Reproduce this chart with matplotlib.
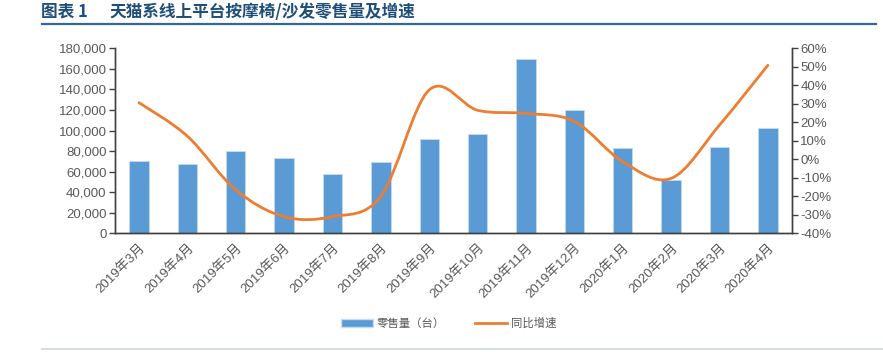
import numpy as np
import matplotlib
matplotlib.use("Agg")
import matplotlib.pyplot as plt
from matplotlib.path import Path
from matplotlib.patches import PathPatch, Patch
from matplotlib.lines import Line2D
from matplotlib.ticker import FuncFormatter, MultipleLocator

plt.rcParams['font.family'] = ['Liberation Sans', 'Noto Sans CJK SC', 'DejaVu Sans']

# 数据
months = ["2019年3月", "2019年4月", "2019年5月", "2019年6月", "2019年7月", "2019年8月",
          "2019年9月", "2019年10月", "2019年11月", "2019年12月", "2020年1月", "2020年2月",
          "2020年3月", "2020年4月"]
sales = [70000, 67500, 80000, 73300, 58000, 69400, 91800, 97000, 169900, 119600,
         83300, 51900, 83600, 102100]
growth = [30.6, 12.5, -16.5, -31.0, -31.0, -20.0, 37.5, 26.5, 24.8, 20.5,
          -1.3, -10.3, 18.5, 50.8]

bar_color = "#5b9bd5"
line_color = "#ed7d31"
txt_color = "#595959"


def smooth_path(xs, ys):
    # Excel 风格平滑线: Catmull-Rom -> 三次贝塞尔
    pts = np.column_stack([xs, ys]).astype(float)
    ext = np.vstack([pts[0], pts, pts[-1]])
    verts = [pts[0]]
    codes = [Path.MOVETO]
    for i in range(1, len(ext) - 2):
        p0, p1, p2, p3 = ext[i - 1], ext[i], ext[i + 1], ext[i + 2]
        verts += [p1 + (p2 - p0) / 6, p2 - (p3 - p1) / 6, p2]
        codes += [Path.CURVE4] * 3
    return Path(verts, codes)


fig = plt.figure(figsize=(8.83, 3.52), dpi=100)
ax = fig.add_axes([0.130, 0.337, 0.767, 0.526])
ax2 = ax.twinx()

x = np.arange(len(months))
ax.bar(x, sales, width=0.4, color=bar_color, edgecolor="#c5dcf0", linewidth=0.6, zorder=2)
ax.set_xlim(-0.5, len(months) - 0.5)
ax.set_ylim(0, 180000)
ax.yaxis.set_major_locator(MultipleLocator(20000))
ax.yaxis.set_major_formatter(FuncFormatter(lambda v, p: "{:,}".format(int(v))))

ax2.set_ylim(-40, 60)
ax2.yaxis.set_major_locator(MultipleLocator(10))
ax2.yaxis.set_major_formatter(FuncFormatter(lambda v, p: "{:.0f}%".format(v)))
ax2.add_patch(PathPatch(smooth_path(x, growth), facecolor="none", edgecolor=line_color,
                        linewidth=2.0, capstyle="round", zorder=3))

for a in (ax, ax2):
    a.spines['top'].set_visible(False)
    for s in ('left', 'right', 'bottom'):
        a.spines[s].set_color("#404040")
        a.spines[s].set_linewidth(1.0)
    a.tick_params(axis='y', colors="#404040", labelcolor=txt_color, labelsize=9.5,
                  length=4, width=1.0, direction='out', pad=2)

ax.set_xticks(x)
ax.set_xticklabels(months, rotation=45, ha='right', va='top', rotation_mode='anchor',
                   fontsize=9.5, color=txt_color)
ax.tick_params(axis='x', length=0, pad=6)

handles = [Patch(facecolor=bar_color, edgecolor="#c5dcf0"),
           Line2D([0], [0], color=line_color, lw=2.0)]
fig.legend(handles, ["零售量（台）", "同比增速"], loc='center', bbox_to_anchor=(0.508, 0.082),
           ncol=2, frameon=False, fontsize=8.2, labelcolor=txt_color,
           handlelength=2.8, handleheight=0.7, columnspacing=2.6, handletextpad=0.35)

# 标题
title_font = dict(fontsize=12, fontweight='bold', color="#1f4e79", ha='left', va='center',
                  family=['Noto Sans CJK SC', 'DejaVu Sans'])
fig.text(0.046, 0.966, "图表 1", **title_font)
fig.text(0.124, 0.966, "天猫系线上平台按摩椅/沙发零售量及增速", **title_font)
fig.add_artist(Line2D([0.047, 0.992], [0.932, 0.932], color="#336699", lw=1.6))
fig.add_artist(Line2D([0.047, 1.0], [0.009, 0.009], color="#ccd5e0", lw=1.2))

fig.savefig("out.png", dpi=100)
